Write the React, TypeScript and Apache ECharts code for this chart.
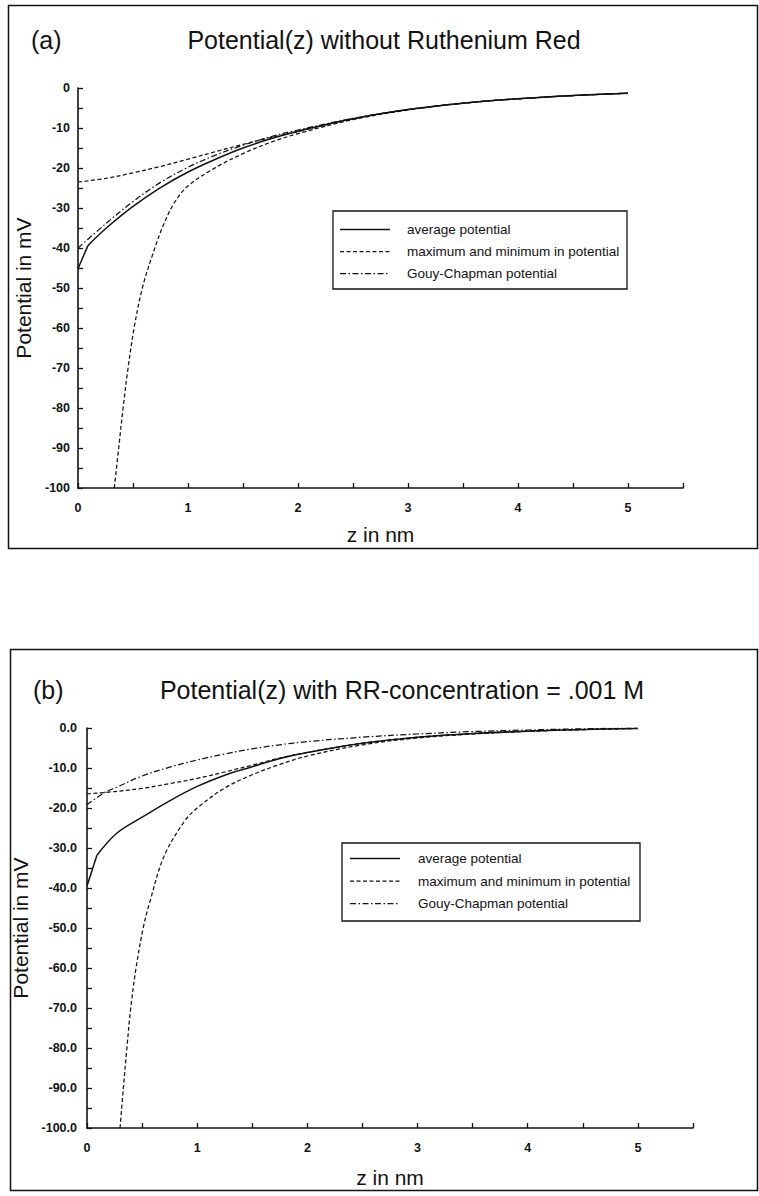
import React, { useEffect, useRef } from "react";
import * as echarts from "echarts";

type Pt = [number, number];

// ---- Panel (a): potential profiles without Ruthenium Red  [z (nm), potential (mV)] ----
// first straight step of the averaged profile, then its smooth part
const aAverageStep: Pt[] = [[0, -45.2], [0.09, -39.4]];
const aAverage: Pt[] = [
  [0.09, -39.4], [0.25, -35.2], [0.5, -29.6], [0.75, -24.9], [1.0, -21.0],
  [1.25, -17.8], [1.5, -15.0], [1.75, -12.7], [2.0, -10.8], [2.5, -7.7], [3.0, -5.4],
  [3.5, -3.8], [4.0, -2.7], [4.5, -1.9], [5.0, -1.3],
];
const aMaximum: Pt[] = [
  [0, -23.5], [0.25, -22.6], [0.5, -21.2], [0.75, -19.6], [1.0, -17.8], [1.25, -15.9],
  [1.5, -14.1], [1.75, -12.4], [2.0, -10.9], [2.5, -7.7], [3.0, -5.4], [3.5, -3.8],
  [4.0, -2.7], [4.5, -1.9], [5.0, -1.3],
];
const aMinimum: Pt[] = [
  [0.33, -100], [0.37, -90], [0.41, -80], [0.455, -70], [0.51, -60], [0.585, -50],
  [0.68, -41.5], [0.78, -34], [0.88, -28.5], [1.0, -24.5], [1.25, -19.9], [1.5, -16.4],
  [1.75, -13.6], [2.0, -11.4], [2.5, -7.9], [3.0, -5.5], [3.5, -3.8], [4.0, -2.7],
  [4.5, -1.9], [5.0, -1.3],
];
const aGouyChapman: Pt[] = [
  [0, -40.0], [0.25, -34.0], [0.5, -28.4], [0.75, -23.6], [1.0, -19.8], [1.25, -16.8],
  [1.5, -14.3], [1.75, -12.2], [2.0, -10.5], [2.5, -7.6], [3.0, -5.4], [3.5, -3.8],
  [4.0, -2.7], [4.5, -1.9], [5.0, -1.3],
];

// ---- Panel (b): potential profiles with RR-concentration = .001 M ----
const bAverageStep: Pt[] = [[0, -39.5], [0.09, -31.8]];
const bAverage: Pt[] = [
  [0.09, -31.8], [0.27, -26.3], [0.5, -22.3], [0.75, -18.2], [1.0, -14.6],
  [1.25, -11.8], [1.5, -9.7], [1.75, -7.6], [2.0, -6.1], [2.5, -3.8], [3.0, -2.3],
  [3.5, -1.4], [4.0, -0.8], [4.5, -0.4], [5.0, -0.1],
];
const bMaximum: Pt[] = [
  [0, -16.5], [0.25, -15.9], [0.5, -15.1], [0.75, -13.9], [1.0, -12.6], [1.25, -11.0],
  [1.5, -9.3], [1.75, -7.5], [2.0, -6.1], [2.5, -3.8], [3.0, -2.3], [3.5, -1.4],
  [4.0, -0.8], [4.5, -0.4], [5.0, -0.1],
];
const bMinimum: Pt[] = [
  [0.3, -100], [0.33, -90], [0.362, -80], [0.397, -70], [0.445, -60], [0.51, -50],
  [0.57, -43.5], [0.7, -32], [0.88, -23.5], [1.0, -20], [1.25, -15], [1.5, -11.7],
  [1.75, -9.1], [2.0, -7.0], [2.5, -4.2], [3.0, -2.5], [3.5, -1.5], [4.0, -0.8],
  [4.5, -0.4], [5.0, -0.1],
];
const bGouyChapman: Pt[] = [
  [0, -19.2], [0.15, -16.3], [0.27, -14.8], [0.5, -12.0], [0.75, -9.8], [1.0, -8.0],
  [1.25, -6.5], [1.5, -5.2], [1.75, -4.2], [2.0, -3.4], [2.5, -2.3], [3.0, -1.5],
  [3.5, -0.9], [4.0, -0.5], [4.5, -0.2], [5.0, 0],
];

// ---- Tick labels and texts ----
const zTickLabels = [0, 1, 2, 3, 4, 5];
const potentialTickLabels = [0, -10, -20, -30, -40, -50, -60, -70, -80, -90, -100];
const legendLabels = [
  "average potential",
  "maximum and minimum in potential",
  "Gouy-Chapman potential",
];
const titleA = "Potential(z) without Ruthenium Red";
const titleB = "Potential(z) with RR-concentration = .001 M";

const FONT = '"Liberation Sans", Arial, Helvetica, sans-serif';
const INK = "#121212";

const solidStyle = { color: INK, width: 1.5, type: "solid" as any };
const dashedStyle = { color: INK, width: 1.25, type: [4, 2.5] as any };
const dashDotStyle = { color: INK, width: 1.25, type: [6, 2.5, 1.5, 2.5] as any };
const legendStyles = [solidStyle, dashedStyle, dashDotStyle];

function xAxisFor(gridIndex: number, nameGap: number) {
  return {
    type: "value",
    gridIndex,
    min: 0,
    max: 5.5,
    interval: 0.5,
    name: "z in nm",
    nameLocation: "middle",
    nameGap,
    nameTextStyle: { fontFamily: FONT, fontSize: 21, color: INK },
    axisLine: { onZero: false, lineStyle: { color: INK, width: 1.6 } },
    axisTick: { inside: true, length: 5, lineStyle: { color: INK, width: 1.3 } },
    axisLabel: {
      margin: 13,
      fontFamily: FONT,
      fontSize: 12.5,
      fontWeight: "bold",
      color: INK,
      formatter: (v: number) => (zTickLabels.includes(v) ? String(v) : ""),
    },
    splitLine: { show: false },
  };
}

function yAxisFor(gridIndex: number, nameGap: number, margin: number, decimals: number) {
  return {
    type: "value",
    gridIndex,
    min: -100,
    max: 0,
    interval: 5,
    name: "Potential in mV",
    nameLocation: "middle",
    nameGap,
    nameTextStyle: { fontFamily: FONT, fontSize: 21, color: INK },
    axisLine: { onZero: false, lineStyle: { color: INK, width: 1.6 } },
    axisTick: { inside: true, length: 5, lineStyle: { color: INK, width: 1.3 } },
    axisLabel: {
      margin,
      fontFamily: FONT,
      fontSize: 12.5,
      fontWeight: "bold",
      color: INK,
      formatter: (v: number) =>
        potentialTickLabels.includes(v) ? (decimals ? v.toFixed(decimals) : String(v)) : "",
    },
    splitLine: { show: false },
  };
}

function curve(name: string, data: Pt[], style: any, axisIndex: number, smooth: number | false = 0.35) {
  return {
    type: "line",
    name,
    data,
    xAxisIndex: axisIndex,
    yAxisIndex: axisIndex,
    showSymbol: false,
    symbol: "none",
    smooth,
    clip: true,
    lineStyle: style,
    emphasis: { disabled: true },
  };
}

function legendBox(left: number, top: number, width: number, height: number,
  sampleX: number, sampleW: number, textX: number, rowYs: number[]) {
  const children: any[] = [
    {
      type: "rect",
      shape: { x: left, y: top, width, height },
      style: { fill: "none", stroke: INK, lineWidth: 1.3 },
    },
  ];
  rowYs.forEach((y, i) => {
    const s = legendStyles[i];
    children.push({
      type: "line",
      shape: { x1: sampleX, y1: y, x2: sampleX + sampleW, y2: y },
      style: {
        stroke: INK,
        lineWidth: s.width,
        lineDash: Array.isArray(s.type) ? s.type : null,
      },
    });
    children.push({
      type: "text",
      style: {
        text: legendLabels[i],
        x: textX,
        y,
        font: `13.5px ${FONT}`,
        fill: INK,
        textAlign: "left",
        textVerticalAlign: "middle",
        align: "left",
        verticalAlign: "middle",
      },
    });
  });
  return { type: "group", children };
}

function label(text: string, x: number, y: number, size: number, align = "left") {
  return {
    type: "text",
    style: {
      text,
      x,
      y,
      font: `${size}px ${FONT}`,
      fill: INK,
      textAlign: align,
      textVerticalAlign: "middle",
      align,
      verticalAlign: "middle",
    },
  };
}

export default function App() {
  const ref = useRef<HTMLDivElement>(null);

  useEffect(() => {
    if (!ref.current) return;
    const chart = echarts.init(ref.current, undefined, { renderer: "svg" });
    chart.setOption({
      animation: false,
      backgroundColor: "#ffffff",
      grid: [
        { left: 78, top: 88, width: 605, height: 400 },
        { left: 87, top: 728, width: 606, height: 400 },
      ],
      xAxis: [xAxisFor(0, 36), xAxisFor(1, 39)],
      yAxis: [yAxisFor(0, 35, 8, 0), yAxisFor(1, 51, 10, 1)],
      series: [
        curve("average potential (a)", aAverageStep, solidStyle, 0, false),
        curve("average potential (a)", aAverage, solidStyle, 0),
        curve("maximum in potential (a)", aMaximum, dashedStyle, 0),
        curve("minimum in potential (a)", aMinimum, dashedStyle, 0),
        curve("Gouy-Chapman potential (a)", aGouyChapman, dashDotStyle, 0),
        curve("average potential (b)", bAverageStep, solidStyle, 1, false),
        curve("average potential (b)", bAverage, solidStyle, 1),
        curve("maximum in potential (b)", bMaximum, dashedStyle, 1),
        curve("minimum in potential (b)", bMinimum, dashedStyle, 1),
        curve("Gouy-Chapman potential (b)", bGouyChapman, dashDotStyle, 1),
      ],
      graphic: [
        // panel frames
        {
          type: "rect",
          shape: { x: 8.5, y: 5.5, width: 749, height: 543 },
          style: { fill: "none", stroke: INK, lineWidth: 1.5 },
        },
        {
          type: "rect",
          shape: { x: 10.5, y: 649.5, width: 747, height: 541 },
          style: { fill: "none", stroke: INK, lineWidth: 1.5 },
        },
        // headings
        label("(a)", 31, 40, 25),
        label(titleA, 384, 40, 25, "center"),
        label("(b)", 33, 690, 25),
        label(titleB, 402, 690, 25, "center"),
        // legends
        legendBox(333, 211, 294, 78, 340, 50, 407, [229.5, 251.5, 273.5]),
        legendBox(342, 843, 298, 78, 350, 50, 418, [858.5, 881, 903.5]),
      ],
    });
    return () => chart.dispose();
  }, []);

  return (
    <div
      ref={ref}
      style={{ position: "absolute", left: 0, top: 0, width: 759, height: 1196, background: "#fff" }}
    />
  );
}
